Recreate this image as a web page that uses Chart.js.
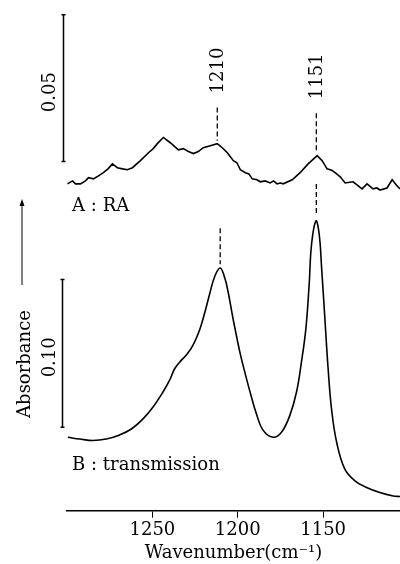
<!DOCTYPE html>
<html>
<head>
<meta charset="utf-8">
<script src="https://cdn.jsdelivr.net/npm/chart.js@4.4.0/dist/chart.umd.min.js"></script>
<style>
  body { margin: 0; background: #fff; }
</style>
</head>
<body>
<canvas id="myChart" width="400" height="564"></canvas>
<script>
"use strict";
// A : RA spectrum (wavenumber cm-1 / absorbance)
let raWave = [1299.7, 1296.8, 1295.0, 1292.1, 1289.2, 1287.4, 1284.5, 1281.6, 1278.7, 1276.0,
  1273.4, 1270.5, 1267.5, 1264.6, 1261.7, 1257.0, 1252.3, 1249.5, 1247.1, 1243.6,
  1239.5, 1234.8, 1231.9, 1228.9, 1226.0, 1223.1, 1220.2, 1216.1, 1212.0, 1209.1,
  1206.1, 1202.6, 1200.5, 1198.5, 1195.6, 1193.5, 1191.5, 1188.8, 1186.8, 1184.0,
  1181.0, 1179.0, 1177.0, 1175.0, 1173.4, 1168.1, 1163.5, 1158.8, 1153.5, 1150.6,
  1147.7, 1145.0, 1143.0, 1140.0, 1137.1, 1132.5, 1130.0, 1127.2, 1124.3, 1120.8,
  1118.5, 1116.7, 1112.6, 1109.6, 1106.7, 1105.0];
let raAbs = [0.0024, 0.0034, 0.0024, 0.0024, 0.0034, 0.0045, 0.0041, 0.0051, 0.0062, 0.0075,
  0.0092, 0.0079, 0.0075, 0.0072, 0.0079, 0.0103, 0.0130, 0.0144, 0.0161, 0.0182,
  0.0164, 0.0140, 0.0144, 0.0134, 0.0127, 0.0134, 0.0147, 0.0154, 0.0161, 0.0147,
  0.0130, 0.0103, 0.0096, 0.0072, 0.0062, 0.0058, 0.0041, 0.0038, 0.0031, 0.0034,
  0.0027, 0.0034, 0.0024, 0.0027, 0.0024, 0.0038, 0.0062, 0.0092, 0.0120, 0.0103,
  0.0075, 0.0070, 0.0062, 0.0048, 0.0027, 0.0031, 0.0020, 0.0007, 0.0024, 0.0007,
  0.0010, 0.0003, 0.0010, 0.0038, 0.0017, 0.0007];

// B : transmission spectrum
let trWave = [1299.5, 1292.6, 1284.8, 1277.0, 1269.2, 1262.3, 1255.5, 1249.6, 1243.8, 1239.9,
  1236.9, 1233.0, 1230.1, 1226.2, 1222.3, 1219.3, 1216.4, 1213.5, 1210.3, 1207.6,
  1205.7, 1202.8, 1198.8, 1194.9, 1192.0, 1189.4, 1185.2, 1179.3, 1174.4, 1169.5,
  1165.6, 1162.7, 1160.1, 1158.2, 1156.8, 1154.2, 1152.3, 1150.9, 1149.0, 1147.1,
  1145.1, 1142.1, 1137.3, 1131.4, 1124.6, 1116.8, 1109.0, 1105.0];
let trAbs = [0.0432, 0.0420, 0.0410, 0.0420, 0.0448, 0.0488, 0.0556, 0.0636, 0.0738, 0.0818,
  0.0897, 0.0954, 0.0988, 0.1056, 0.1160, 0.1276, 0.1405, 0.1520, 0.1577, 0.1509,
  0.1418, 0.1237, 0.1010, 0.0829, 0.0704, 0.0602, 0.0480, 0.0432, 0.0466, 0.0580,
  0.0738, 0.0942, 0.1169, 0.1464, 0.1736, 0.1895, 0.1804, 0.1577, 0.1237, 0.0897,
  0.0624, 0.0398, 0.0216, 0.0137, 0.0092, 0.0058, 0.0035, 0.0031];

let tickValues = [1250, 1200, 1150];

// dashed peak markers
let peakLabels = ["1210", "1151"];
let markWaveA = [1212, 1154];
let markTopA = [0.0284, 0.0264];
let markBotA = [0.0171, 0.0137];
let markWaveB = [1210.3, 1154];
let markTopB = [0.1847, 0.2146];
let markBotB = [0.1602, 0.1929];

// scale bars
let barA = [0.01, 0.06];
let barB = [0.05, 0.15];
let barLabels = ["0.05", "0.10"];

let serif = "'DejaVu Serif', 'Liberation Serif', serif";
Chart.defaults.font.family = serif;
Chart.defaults.color = "#000";

function toPoints(xs, ys) {
  let pts = [];
  for (let i = 0; i < xs.length; i++) {
    pts.push({ x: xs[i], y: ys[i] });
  }
  return pts;
}

let datasets = [
  {
    label: "A : RA",
    data: toPoints(raWave, raAbs),
    yAxisID: "yA",
    borderColor: "#000",
    borderWidth: 1.6,
    pointRadius: 0,
    tension: 0,
  },
  {
    label: "B : transmission",
    data: toPoints(trWave, trAbs),
    yAxisID: "yB",
    borderColor: "#000",
    borderWidth: 1.6,
    pointRadius: 0,
    tension: 0.4,
  },
];
for (let i = 0; i < markWaveA.length; i++) {
  datasets.push({
    data: [{ x: markWaveA[i], y: markTopA[i] }, { x: markWaveA[i], y: markBotA[i] }],
    yAxisID: "yA",
    borderColor: "#000",
    borderWidth: 1.3,
    borderDash: [5, 3],
    pointRadius: 0,
  });
  datasets.push({
    data: [{ x: markWaveB[i], y: markTopB[i] }, { x: markWaveB[i], y: markBotB[i] }],
    yAxisID: "yB",
    borderColor: "#000",
    borderWidth: 1.3,
    borderDash: [5, 3],
    pointRadius: 0,
  });
}

function rotText(ctx, text, x, y) {
  ctx.save();
  ctx.translate(x, y);
  ctx.rotate(-Math.PI / 2);
  ctx.textAlign = "center";
  ctx.textBaseline = "middle";
  ctx.fillText(text, 0, 0);
  ctx.restore();
}

function scaleBar(ctx, x, y0, y1) {
  ctx.beginPath();
  ctx.moveTo(x, y0);
  ctx.lineTo(x, y1);
  ctx.moveTo(x - 2, y0);
  ctx.lineTo(x + 2, y0);
  ctx.moveTo(x - 2, y1);
  ctx.lineTo(x + 2, y1);
  ctx.stroke();
}

let extras = {
  id: "extras",
  afterDraw(chart) {
    let ctx = chart.ctx;
    let x = chart.scales.x;
    let yA = chart.scales.yA;
    let yB = chart.scales.yB;
    let left = chart.chartArea.left;
    ctx.save();
    ctx.strokeStyle = "#000";
    ctx.fillStyle = "#000";
    ctx.lineWidth = 1.5;
    ctx.font = "18px " + serif;

    // scale bars with their labels
    let a0 = yA.getPixelForValue(barA[0]), a1 = yA.getPixelForValue(barA[1]);
    let b0 = yB.getPixelForValue(barB[0]), b1 = yB.getPixelForValue(barB[1]);
    scaleBar(ctx, left - 3.5, a0, a1);
    scaleBar(ctx, left - 4.5, b0, b1);
    rotText(ctx, barLabels[0], left - 17, (a0 + a1) / 2 + 4);
    rotText(ctx, barLabels[1], left - 17, (b0 + b1) / 2 + 4);

    // Absorbance with arrow
    rotText(ctx, "Absorbance", 25, 364);
    ctx.lineWidth = 1;
    ctx.beginPath();
    ctx.moveTo(22, 285);
    ctx.lineTo(22, 203);
    ctx.stroke();
    ctx.beginPath();
    ctx.moveTo(22, 199);
    ctx.lineTo(19.5, 206);
    ctx.lineTo(24.5, 206);
    ctx.closePath();
    ctx.fill();

    // peak labels above the dashed lines
    for (let i = 0; i < peakLabels.length; i++) {
      let px = x.getPixelForValue(markWaveA[i]) + 1;
      let py = yA.getPixelForValue(markTopA[i]) - 37;
      rotText(ctx, peakLabels[i], px, py);
    }

    // panel labels
    ctx.textAlign = "left";
    ctx.textBaseline = "middle";
    ctx.fillText("A : RA", x.getPixelForValue(1297), yA.getPixelForValue(-0.0051));
    ctx.fillText("B : transmission", x.getPixelForValue(1297), yB.getPixelForValue(0.0241));
    ctx.restore();
  },
};

let ctx = document.getElementById("myChart").getContext("2d");
let myChart = new Chart(ctx, {
  type: "line",
  data: { datasets: datasets },
  plugins: [extras],
  options: {
    responsive: false,
    animation: false,
    layout: { padding: { left: 67, right: 0, top: 10, bottom: 0 } },
    plugins: { legend: { display: false }, tooltip: { enabled: false } },
    scales: {
      x: {
        type: "linear",
        reverse: true,
        min: 1105,
        max: 1300,
        afterBuildTicks: (scale) => {
          scale.ticks = scale.ticks.filter((t) => tickValues.includes(t.value));
        },
        ticks: {
          stepSize: 50,
          padding: 2,
          maxRotation: 0,
          font: { size: 18, lineHeight: 1.2 },
          color: "#000",
          callback: (v) => String(v),
        },
        grid: {
          drawOnChartArea: false,
          drawTicks: true,
          tickLength: 7,
          color: "#000",
          lineWidth: 1,
        },
        border: { display: true, color: "#000", width: 1.5 },
        title: {
          display: true,
          text: "Wavenumber(cm⁻¹)",
          font: { size: 18, lineHeight: 1.15 },
          color: "#000",
          padding: { top: 0, bottom: 0 },
        },
      },
      yA: {
        display: false,
        min: -0.1089,
        max: 0.0616,
      },
      yB: {
        display: false,
        min: -0.0065,
        max: 0.3323,
      },
    },
  },
});
</script>
</body>
</html>
